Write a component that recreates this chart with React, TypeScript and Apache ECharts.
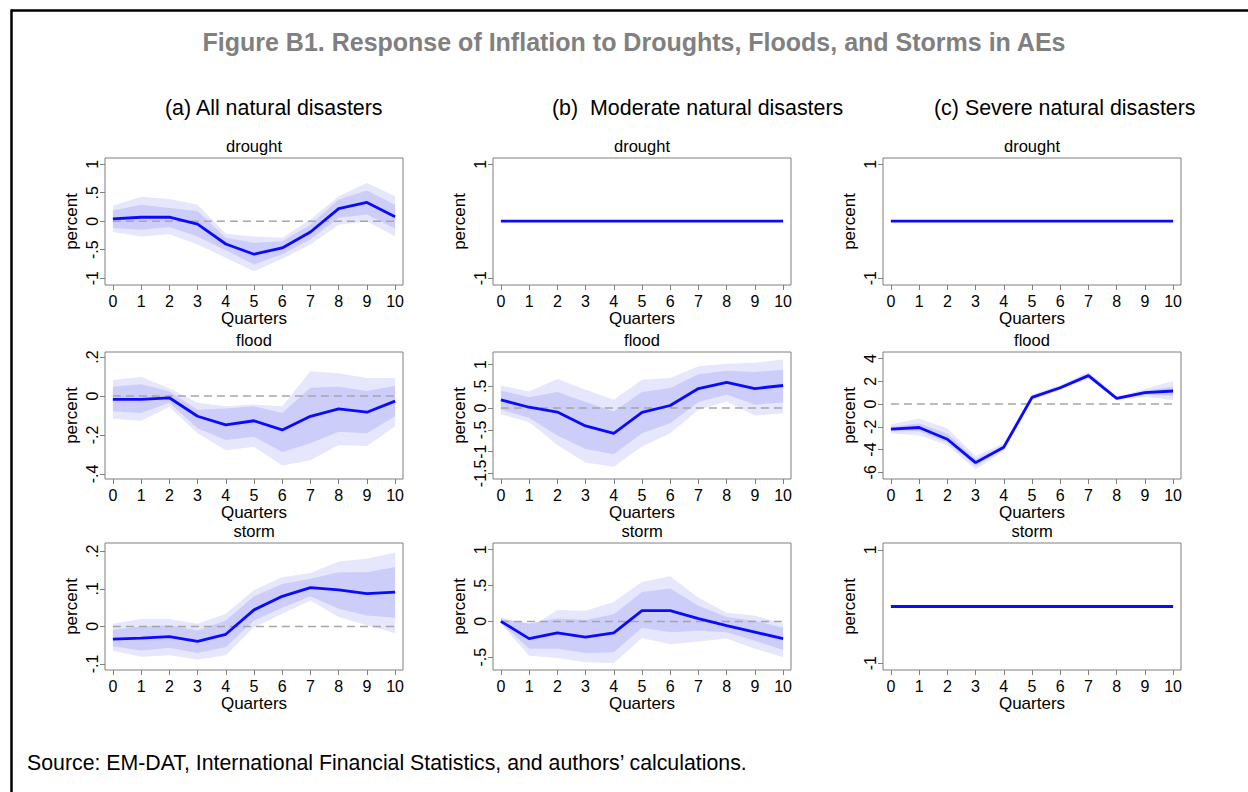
import React, { useEffect, useRef } from 'react';
import * as echarts from 'echarts';

// horizon (quarters after the shock)
const quarters = [0, 1, 2, 3, 4, 5, 6, 7, 8, 9, 10];

// (a) all natural disasters
const aDroughtMid = [0.04, 0.07, 0.07, -0.05, -0.4, -0.58, -0.47, -0.19, 0.22, 0.33, 0.08];
const aDroughtInnerHi = [0.19, 0.29, 0.23, 0.18, -0.29, -0.38, -0.35, -0.06, 0.38, 0.54, 0.29];
const aDroughtInnerLo = [-0.12, -0.15, -0.1, -0.27, -0.51, -0.76, -0.58, -0.32, 0.06, 0.12, -0.13];
const aDroughtOuterHi = [0.27, 0.43, 0.39, 0.29, -0.22, -0.27, -0.29, 0.03, 0.44, 0.67, 0.44];
const aDroughtOuterLo = [-0.19, -0.27, -0.23, -0.41, -0.64, -0.88, -0.66, -0.41, -0.06, 0.0, -0.27];

const aFloodMid = [-0.017, -0.017, -0.009, -0.104, -0.148, -0.127, -0.174, -0.104, -0.066, -0.083, -0.026];
const aFloodInnerHi = [0.047, 0.061, 0.023, -0.07, -0.064, -0.052, -0.087, 0.043, 0.047, 0.026, 0.052];
const aFloodInnerLo = [-0.078, -0.087, -0.035, -0.165, -0.226, -0.209, -0.287, -0.243, -0.183, -0.191, -0.104];
const aFloodOuterHi = [0.082, 0.099, 0.04, -0.035, -0.052, -0.043, -0.052, 0.127, 0.117, 0.092, 0.092];
const aFloodOuterLo = [-0.117, -0.127, -0.057, -0.191, -0.278, -0.261, -0.357, -0.33, -0.252, -0.256, -0.157];

const aStormMid = [-0.034, -0.031, -0.027, -0.04, -0.021, 0.044, 0.08, 0.103, 0.097, 0.087, 0.091];
const aStormInnerHi = [-0.009, 0.0, 0.003, -0.011, 0.016, 0.08, 0.113, 0.127, 0.144, 0.144, 0.158];
const aStormInnerLo = [-0.053, -0.064, -0.057, -0.071, -0.055, 0.016, 0.05, 0.08, 0.047, 0.029, 0.023];
const aStormOuterHi = [0.007, 0.02, 0.02, 0.007, 0.034, 0.097, 0.131, 0.142, 0.173, 0.18, 0.197];
const aStormOuterLo = [-0.065, -0.081, -0.077, -0.088, -0.077, -0.002, 0.034, 0.069, 0.025, 0.003, -0.018];

// (b) moderate natural disasters
const bDroughtMid = [0, 0, 0, 0, 0, 0, 0, 0, 0, 0, 0];

const bFloodMid = [0.19, 0.02, -0.09, -0.41, -0.58, -0.1, 0.06, 0.45, 0.59, 0.45, 0.52];
const bFloodInnerHi = [0.4, 0.25, 0.37, 0.14, -0.08, 0.37, 0.46, 0.78, 0.86, 0.83, 0.88];
const bFloodInnerLo = [-0.04, -0.22, -0.63, -0.94, -1.06, -0.58, -0.35, 0.14, 0.31, 0.08, 0.13];
const bFloodOuterHi = [0.52, 0.38, 0.67, 0.42, 0.19, 0.65, 0.69, 0.96, 1.02, 1.04, 1.12];
const bFloodOuterLo = [-0.14, -0.32, -0.85, -1.25, -1.35, -0.88, -0.58, -0.04, 0.15, -0.17, -0.12];

const bStormMid = [0.0, -0.24, -0.16, -0.22, -0.16, 0.15, 0.15, 0.04, -0.06, -0.15, -0.24];
const bStormInnerHi = [0.04, -0.03, 0.04, 0.02, 0.1, 0.41, 0.46, 0.22, 0.06, 0.01, -0.09];
const bStormInnerLo = [-0.02, -0.38, -0.38, -0.44, -0.43, -0.09, -0.15, -0.13, -0.15, -0.27, -0.4];
const bStormOuterHi = [0.06, -0.09, 0.16, 0.15, 0.27, 0.55, 0.63, 0.33, 0.12, 0.08, -0.03];
const bStormOuterLo = [-0.03, -0.48, -0.51, -0.57, -0.58, -0.23, -0.32, -0.28, -0.24, -0.38, -0.5];

// (c) severe natural disasters
const cDroughtMid = [0, 0, 0, 0, 0, 0, 0, 0, 0, 0, 0];

const cFloodMid = [-2.2, -2.06, -3.09, -5.15, -3.79, 0.59, 1.44, 2.5, 0.5, 1.0, 1.15];
const cFloodInnerHi = [-2.0, -1.71, -2.59, -4.85, -3.62, 0.74, 1.56, 2.68, 0.59, 1.18, 1.53];
const cFloodInnerLo = [-2.38, -2.38, -3.38, -5.44, -3.97, 0.44, 1.32, 2.38, 0.41, 0.79, 0.74];
const cFloodOuterHi = [-1.79, -1.26, -2.15, -4.56, -3.47, 0.85, 1.68, 2.85, 0.65, 1.32, 2.03];
const cFloodOuterLo = [-2.59, -2.74, -3.62, -5.74, -4.15, 0.35, 1.24, 2.26, 0.35, 0.65, 0.35];

const cStormMid = [0, 0, 0, 0, 0, 0, 0, 0, 0, 0, 0];

// y tick values per panel
const ticksUnit = [-1, -0.5, 0, 0.5, 1];
const ticksFloodA = [-0.4, -0.2, 0, 0.2];
const ticksStormA = [-0.1, 0, 0.1, 0.2];
const ticksFlat = [-1, 1];
const ticksFloodB = [-1.5, -1, -0.5, 0, 0.5, 1];
const ticksStormB = [-0.5, 0, 0.5, 1];
const ticksFloodC = [-6, -4, -2, 0, 2, 4];

const columnTitles = ['(a) All natural disasters', '(b)  Moderate natural disasters', '(c) Severe natural disasters'];
const rowTitles = ['drought', 'flood', 'storm'];

interface Panel {
  mid: number[];
  innerHi?: number[];
  innerLo?: number[];
  outerHi?: number[];
  outerLo?: number[];
  ticks: number[];
  yMin: number;
  yMax: number;
}

// column-major: a drought, a flood, a storm, b drought, ...
const panels: Panel[] = [
  { mid: aDroughtMid, innerHi: aDroughtInnerHi, innerLo: aDroughtInnerLo, outerHi: aDroughtOuterHi, outerLo: aDroughtOuterLo, ticks: ticksUnit, yMin: -1.12, yMax: 1.11 },
  { mid: aFloodMid, innerHi: aFloodInnerHi, innerLo: aFloodInnerLo, outerHi: aFloodOuterHi, outerLo: aFloodOuterLo, ticks: ticksFloodA, yMin: -0.426, yMax: 0.226 },
  { mid: aStormMid, innerHi: aStormInnerHi, innerLo: aStormInnerLo, outerHi: aStormOuterHi, outerLo: aStormOuterLo, ticks: ticksStormA, yMin: -0.116, yMax: 0.222 },
  { mid: bDroughtMid, ticks: ticksFlat, yMin: -1.12, yMax: 1.11 },
  { mid: bFloodMid, innerHi: bFloodInnerHi, innerLo: bFloodInnerLo, outerHi: bFloodOuterHi, outerLo: bFloodOuterLo, ticks: ticksFloodB, yMin: -1.63, yMax: 1.29 },
  { mid: bStormMid, innerHi: bStormInnerHi, innerLo: bStormInnerLo, outerHi: bStormOuterHi, outerLo: bStormOuterLo, ticks: ticksStormB, yMin: -0.678, yMax: 1.094 },
  { mid: cDroughtMid, ticks: ticksFlat, yMin: -1.12, yMax: 1.11 },
  { mid: cFloodMid, innerHi: cFloodInnerHi, innerLo: cFloodInnerLo, outerHi: cFloodOuterHi, outerLo: cFloodOuterLo, ticks: ticksFloodC, yMin: -6.59, yMax: 4.58 },
  { mid: cStormMid, ticks: ticksFlat, yMin: -1.12, yMax: 1.12 },
];

const FONT = '"Liberation Sans", Arial, Helvetica, sans-serif';
const FRAME = '#7f7f7f';
const colLefts = [105, 493, 883];
const colHeadX = [165, 552, 934];
const rowTops = [158, 352, 543];
const plotW = 298;
const plotH = 127;

// Stata style: .5, -.5, 1
const stataLabel = (v: number) => {
  const s = String(Math.round(v * 1000) / 1000);
  return s.replace(/^(-?)0\./, '$1.');
};

const bandSeries = (k: number, lo: number[], hi: number[], color: string, z: number) => ({
  type: 'custom',
  xAxisIndex: k,
  yAxisIndex: k,
  z,
  silent: true,
  clip: false,
  encode: { x: 0, y: [1, 2] },
  data: quarters.map((q, i) => [q, lo[i], hi[i]]),
  renderItem: (params: any, api: any) => {
    if (params.dataIndex !== 0) return null;
    const pts: number[][] = [];
    quarters.forEach((q, i) => pts.push(api.coord([q, hi[i]])));
    for (let i = quarters.length - 1; i >= 0; i--) pts.push(api.coord([quarters[i], lo[i]]));
    return { type: 'polygon', shape: { points: pts }, style: { fill: color } };
  },
});

const App: React.FC = () => {
  const chartRef = useRef<HTMLDivElement>(null);

  useEffect(() => {
    if (!chartRef.current) return;
    const chart = echarts.init(chartRef.current, null, { renderer: 'svg' });

    const grids: any[] = [];
    const xAxes: any[] = [];
    const yAxes: any[] = [];
    const series: any[] = [];
    const texts: any[] = [];

    panels.forEach((p, k) => {
      const col = Math.floor(k / 3);
      const row = k % 3;
      const left = colLefts[col];
      const top = rowTops[row];

      grids.push({ left, top, width: plotW, height: plotH, show: true, borderColor: FRAME, borderWidth: 1, backgroundColor: 'transparent' });

      xAxes.push({
        type: 'value',
        gridIndex: k,
        min: -0.28,
        max: 10.28,
        name: 'Quarters',
        nameLocation: 'middle',
        nameGap: 25,
        nameTextStyle: { fontFamily: FONT, fontSize: 17, color: '#000' },
        axisLine: { show: false, onZero: false },
        axisTick: { show: true, customValues: quarters, length: 5, lineStyle: { color: FRAME } },
        axisLabel: { customValues: quarters, margin: 8, fontFamily: FONT, fontSize: 16, color: '#000' },
        splitLine: { show: false },
      });

      yAxes.push({
        type: 'value',
        gridIndex: k,
        min: p.yMin,
        max: p.yMax,
        name: 'percent',
        nameLocation: 'middle',
        nameRotate: 90,
        nameGap: 25,
        nameTextStyle: { fontFamily: FONT, fontSize: 17, color: '#000' },
        axisLine: { show: false, onZero: false },
        axisTick: { show: true, customValues: p.ticks, length: 5, lineStyle: { color: FRAME } },
        axisLabel: { customValues: p.ticks, rotate: 90, margin: 5, fontFamily: FONT, fontSize: 16, color: '#000', formatter: stataLabel },
        splitLine: { show: false },
      });

      if (p.outerLo && p.outerHi) series.push(bandSeries(k, p.outerLo, p.outerHi, '#e6e6fd', 1));
      if (p.innerLo && p.innerHi) series.push(bandSeries(k, p.innerLo, p.innerHi, '#cdcdfa', 2));

      series.push({
        type: 'line',
        xAxisIndex: k,
        yAxisIndex: k,
        z: 3,
        silent: true,
        symbol: 'none',
        data: [[quarters[0], 0], [quarters[quarters.length - 1], 0]],
        lineStyle: { color: '#a6a6a6', width: 1.5, type: [8, 5] },
      });

      series.push({
        type: 'line',
        xAxisIndex: k,
        yAxisIndex: k,
        z: 4,
        silent: true,
        symbol: 'none',
        data: quarters.map((q, i) => [q, p.mid[i]]),
        lineStyle: { color: '#0a0aff', width: 2.8 },
      });

      texts.push({
        type: 'text',
        x: left + plotW / 2,
        y: top - 12,
        style: { text: rowTitles[row], fill: '#000', font: `16.5px ${FONT}`, textAlign: 'center', textVerticalAlign: 'middle' },
      });
    });

    columnTitles.forEach((t, c) => {
      texts.push({
        type: 'text',
        x: colHeadX[c],
        y: 108,
        style: { text: t, fill: '#000', font: `21.4px ${FONT}`, textAlign: 'left', textVerticalAlign: 'middle' },
      });
    });

    texts.push({
      type: 'text',
      x: 634,
      y: 42,
      style: { text: 'Figure B1. Response of Inflation to Droughts, Floods, and Storms in AEs', fill: '#808080', font: `bold 25px ${FONT}`, textAlign: 'center', textVerticalAlign: 'middle' },
    });
    texts.push({
      type: 'text',
      x: 27,
      y: 763,
      style: { text: 'Source: EM-DAT, International Financial Statistics, and authors’ calculations.', fill: '#000', font: `21.3px ${FONT}`, textAlign: 'left', textVerticalAlign: 'middle' },
    });

    // outer figure border (top and left edges)
    texts.push({ type: 'line', shape: { x1: 11, y1: 10.5, x2: 1248, y2: 10.5 }, style: { stroke: '#000', lineWidth: 2.5 } });
    texts.push({ type: 'line', shape: { x1: 11.5, y1: 9.5, x2: 11.5, y2: 792 }, style: { stroke: '#000', lineWidth: 2.5 } });

    chart.setOption({
      animation: false,
      backgroundColor: '#fff',
      grid: grids,
      xAxis: xAxes,
      yAxis: yAxes,
      series,
      graphic: texts,
    });

    return () => {
      chart.dispose();
    };
  }, []);

  return <div ref={chartRef} style={{ position: 'absolute', left: 0, top: 0, width: 1248, height: 792 }} />;
};

export default App;
